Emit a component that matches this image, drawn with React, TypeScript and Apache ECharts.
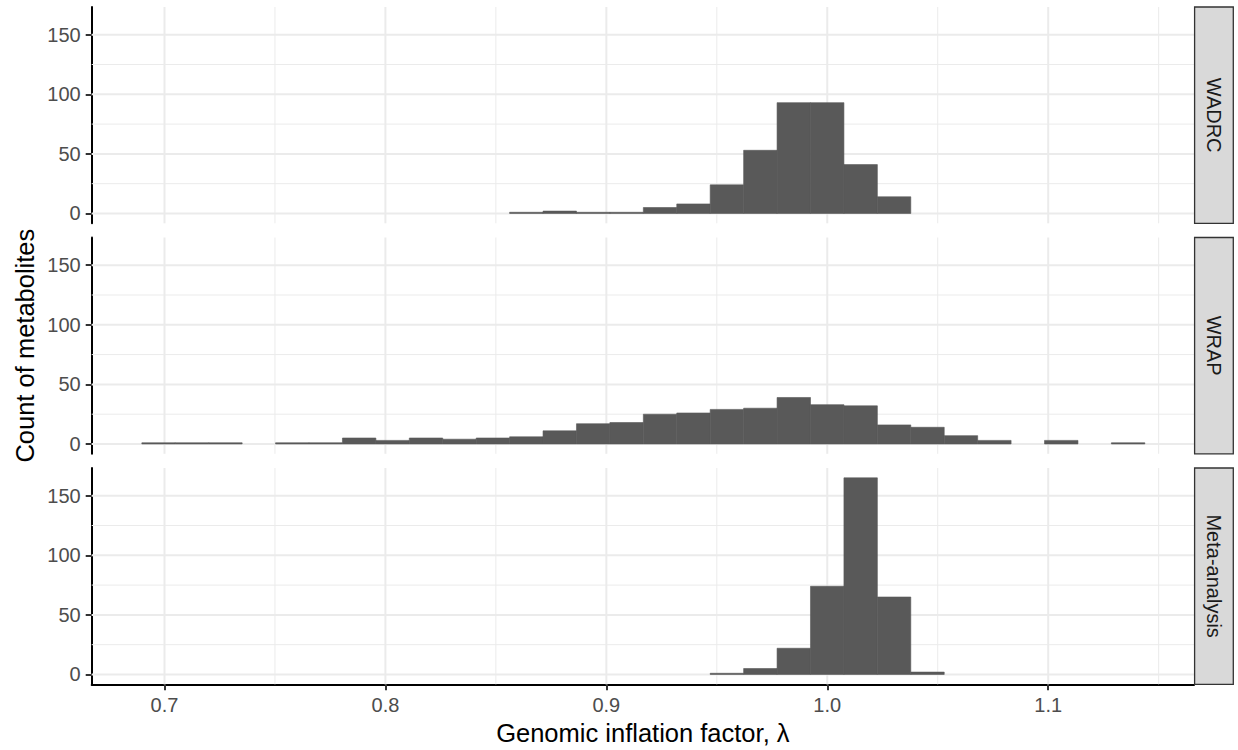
import React, { useEffect, useRef } from "react";
import * as echarts from "echarts";

// ---- data ----
const panelNames = ["WADRC", "WRAP", "Meta-analysis"];
const binStart = 0.68975;
const binWidth = 0.015133;
const wadrcCounts = [0, 0, 0, 0, 0, 0, 0, 0, 0, 0, 0, 1, 2, 1, 1, 5, 8, 24, 53, 93, 93, 41, 14, 0, 0, 0, 0, 0, 0, 0];
const wrapCounts = [1, 1, 1, 0, 1, 1, 5, 3, 5, 4, 5, 6, 11, 17, 18, 25, 26, 29, 30, 39, 33, 32, 16, 14, 7, 3, 0, 3, 0, 1];
const metaCounts = [0, 0, 0, 0, 0, 0, 0, 0, 0, 0, 0, 0, 0, 0, 0, 0, 0, 1, 5, 22, 74, 165, 65, 2, 0, 0, 0, 0, 0, 0];
const xTicks = [0.7, 0.8, 0.9, 1.0, 1.1];
const xMinor = [0.75, 0.85, 0.95, 1.05, 1.15];
const yTicks = [0, 50, 100, 150];
const yMinor = [25, 75, 125];
const xTitle = "Genomic inflation factor, \u03bb";
const yTitle = "Count of metabolites";

// ---- layout / style ----
const FONT = "'Liberation Sans', Arial, Helvetica, sans-serif";
const X_MIN = 0.66705;
const X_MAX = 1.166;
const Y_MIN = -8.25;
const Y_MAX = 173.25;
const GRID_LEFT = 91.7;
const GRID_RIGHT_EDGE = 1194.0;
const PANEL_TOPS = [7, 237.5, 468];
const PANEL_H = 216.3;
const STRIP_X = 1194.6;
const STRIP_W = 38.7;

export default function App() {
  const ref = useRef<HTMLDivElement>(null);

  useEffect(() => {
    if (!ref.current) return;
    const chart = echarts.init(ref.current, undefined, { renderer: "svg" });
    const allCounts = [wadrcCounts, wrapCounts, metaCounts];

    const grids = PANEL_TOPS.map((top) => ({
      left: GRID_LEFT,
      top,
      width: GRID_RIGHT_EDGE - GRID_LEFT,
      height: PANEL_H,
      containLabel: false,
    }));

    const xAxes = PANEL_TOPS.map((_, i) => {
      const isBottom = i === PANEL_TOPS.length - 1;
      return {
        type: "value",
        gridIndex: i,
        min: X_MIN,
        max: X_MAX,
        show: true,
        splitLine: { show: false },
        axisLine: {
          show: isBottom,
          onZero: false,
          lineStyle: { color: "#000000", width: 2 },
        },
        axisTick: {
          show: isBottom,
          customValues: xTicks,
          length: 6,
          lineStyle: { color: "#333333", width: 2 },
        },
        axisLabel: {
          show: isBottom,
          customValues: xTicks,
          margin: 11,
          fontSize: 20,
          color: "#4D4D4D",
          fontFamily: FONT,
          formatter: (v: number) => v.toFixed(1),
        },
      };
    });

    const yAxes = PANEL_TOPS.map((_, i) => ({
      type: "value",
      gridIndex: i,
      min: Y_MIN,
      max: Y_MAX,
      splitLine: { show: false },
      axisLine: {
        show: true,
        onZero: false,
        lineStyle: { color: "#000000", width: 2 },
      },
      axisTick: {
        show: true,
        customValues: yTicks,
        length: 6,
        lineStyle: { color: "#333333", width: 2 },
      },
      axisLabel: {
        show: true,
        customValues: yTicks,
        margin: 11,
        fontSize: 20,
        color: "#4D4D4D",
        fontFamily: FONT,
        formatter: (v: number) => String(Math.round(v)),
      },
    }));

    const gridLineData: any[] = [];
    xTicks.forEach((v) => gridLineData.push([0, v, 1]));
    xMinor.forEach((v) => gridLineData.push([0, v, 0]));
    yTicks.forEach((v) => gridLineData.push([1, v, 1]));
    yMinor.forEach((v) => gridLineData.push([1, v, 0]));

    const series: any[] = [];
    PANEL_TOPS.forEach((_, i) => {
      series.push({
        type: "custom",
        xAxisIndex: i,
        yAxisIndex: i,
        z: 1,
        silent: true,
        data: gridLineData,
        renderItem: (params: any, api: any) => {
          const cs = params.coordSys;
          const orient = api.value(0);
          const v = api.value(1);
          const major = api.value(2) === 1;
          const style = { stroke: "#EBEBEB", lineWidth: major ? 2 : 1 };
          if (orient === 0) {
            const p = api.coord([v, 0]);
            return {
              type: "line",
              shape: { x1: p[0], y1: cs.y, x2: p[0], y2: cs.y + cs.height },
              style,
            };
          }
          const p = api.coord([X_MIN, v]);
          return {
            type: "line",
            shape: { x1: cs.x, y1: p[1], x2: cs.x + cs.width, y2: p[1] },
            style,
          };
        },
      });

      const counts = allCounts[i];
      const bars: number[][] = [];
      counts.forEach((c, k) => {
        if (c > 0) bars.push([binStart + k * binWidth, binStart + (k + 1) * binWidth, c]);
      });
      series.push({
        type: "custom",
        name: panelNames[i],
        xAxisIndex: i,
        yAxisIndex: i,
        z: 3,
        data: bars,
        renderItem: (params: any, api: any) => {
          const p0 = api.coord([api.value(0), api.value(2)]);
          const p1 = api.coord([api.value(1), 0]);
          return {
            type: "rect",
            shape: { x: p0[0], y: p0[1], width: p1[0] - p0[0], height: p1[1] - p0[1] },
            style: { fill: "#595959", stroke: "#595959", lineWidth: 0.6 },
          };
        },
      });
    });

    const graphic: any[] = [];
    PANEL_TOPS.forEach((top, i) => {
      graphic.push({
        type: "rect",
        shape: { x: STRIP_X, y: top, width: STRIP_W, height: PANEL_H },
        style: { fill: "#D9D9D9", stroke: "#333333", lineWidth: 1.3 },
        z: 10,
      });
      graphic.push({
        type: "text",
        x: STRIP_X + STRIP_W / 2,
        y: top + PANEL_H / 2,
        rotation: -Math.PI / 2,
        style: {
          text: panelNames[i],
          fontSize: 20,
          fill: "#1A1A1A",
          fontFamily: FONT,
          align: "center",
          verticalAlign: "middle",
        },
        z: 11,
      });
    });
    graphic.push({
      type: "text",
      x: (GRID_LEFT + GRID_RIGHT_EDGE) / 2,
      y: 733,
      style: {
        text: xTitle,
        fontSize: 25.5,
        fill: "#000000",
        fontFamily: FONT,
        align: "center",
        verticalAlign: "middle",
      },
    });
    graphic.push({
      type: "text",
      x: 25,
      y: (PANEL_TOPS[0] + PANEL_TOPS[2] + PANEL_H) / 2,
      rotation: Math.PI / 2,
      style: {
        text: yTitle,
        fontSize: 25.5,
        fill: "#000000",
        fontFamily: FONT,
        align: "center",
        verticalAlign: "middle",
      },
    });

    chart.setOption({
      animation: false,
      backgroundColor: "#FFFFFF",
      grid: grids,
      xAxis: xAxes,
      yAxis: yAxes,
      series,
      graphic,
    });

    return () => chart.dispose();
  }, []);

  return (
    <div
      ref={ref}
      style={{ position: "absolute", left: 0, top: 0, width: 1238, height: 750 }}
    />
  );
}
